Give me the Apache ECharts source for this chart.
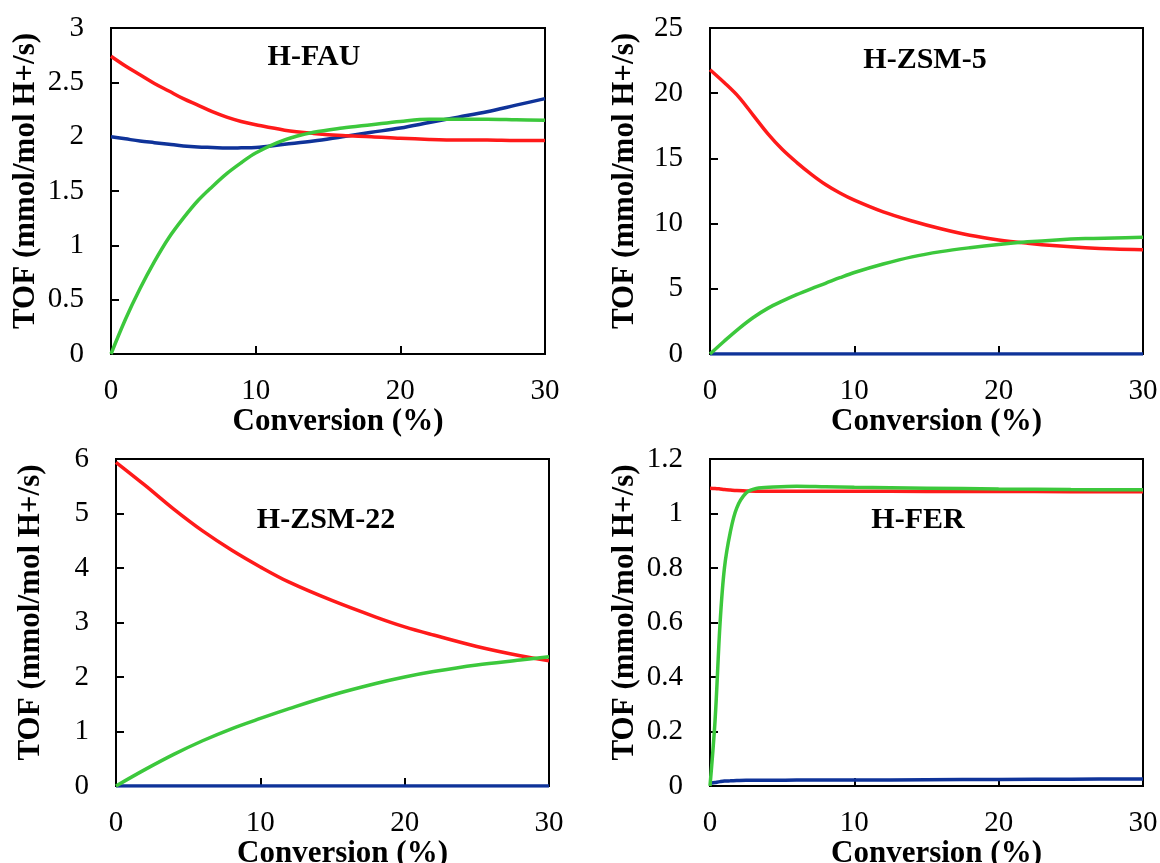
<!DOCTYPE html>
<html>
<head>
<meta charset="utf-8">
<script src="https://cdn.jsdelivr.net/npm/echarts@6/dist/echarts.min.js"></script>
<style>
html,body{margin:0;padding:0;background:#fff;}
#chart{width:1160px;height:863px;}
</style>
</head>
<body>
<div id="chart"></div>
<script>
// ---------- data ----------
const panelNames = ['H-FAU', 'H-ZSM-5', 'H-ZSM-22', 'H-FER'];
const yMax = [3, 25, 6, 1.2];
const yInterval = [0.5, 5, 1, 0.2];
const xTicks = [0, 10, 20, 30];

// H-FAU
const xFAU = [0,1,2,3,4,5,6,7,8,9,10,12,14,16,18,20,22,24,26,28,30];
const redFAU = [2.74,2.65,2.57,2.49,2.42,2.35,2.29,2.23,2.18,2.14,2.11,2.06,2.03,2.01,2.0,1.985,1.975,1.97,1.97,1.965,1.965];
const blueFAU = [2.0,1.98,1.96,1.945,1.93,1.915,1.905,1.9,1.895,1.897,1.9,1.93,1.96,2.0,2.04,2.08,2.13,2.18,2.23,2.29,2.35];
const greenFAU = [0,0.32,0.6,0.85,1.07,1.25,1.41,1.54,1.66,1.76,1.85,1.97,2.04,2.08,2.11,2.14,2.16,2.16,2.16,2.155,2.15];

// H-ZSM-5
const xZSM5 = [0,1,2,3,4,5,6,7,8,9,10,12,14,16,18,20,22,24,26,28,30];
const redZSM5 = [21.8,20.8,19.7,18.3,16.9,15.7,14.7,13.8,13.0,12.35,11.8,10.9,10.2,9.6,9.1,8.75,8.5,8.3,8.15,8.05,8.0];
const blueZSM5 = [0,0,0,0,0,0,0,0,0,0,0,0,0,0,0,0,0,0,0,0,0];
const greenZSM5 = [0,1.0,1.95,2.8,3.5,4.05,4.55,5.0,5.42,5.85,6.25,6.9,7.45,7.85,8.15,8.4,8.6,8.75,8.85,8.9,8.95];

// H-ZSM-22
const xZSM22 = [0,2,4,6,8,10,12,15,18,20,22,25,28,30];
const redZSM22 = [5.94,5.52,5.08,4.68,4.33,4.02,3.74,3.40,3.10,2.92,2.77,2.56,2.39,2.3];
const blueZSM22 = [0,0,0,0,0,0,0,0,0,0,0,0,0,0];
const greenZSM22 = [0,0.3,0.58,0.83,1.05,1.24,1.42,1.67,1.88,2.0,2.1,2.22,2.31,2.37];

// H-FER
const xFER = [0,0.35,0.7,1.0,1.4,1.85,2.5,3.2,4.4,6,8,10,15,20,25,30];
const redFER = [1.093,1.092,1.09,1.088,1.086,1.084,1.083,1.082,1.082,1.082,1.082,1.082,1.081,1.081,1.08,1.08];
const blueFER = [0.01,0.013,0.016,0.018,0.019,0.02,0.021,0.021,0.021,0.022,0.022,0.022,0.023,0.024,0.025,0.026];
const greenFER = [0,0.24,0.6,0.8,0.93,1.02,1.075,1.092,1.097,1.1,1.098,1.096,1.093,1.09,1.088,1.087];

// ---------- layout ----------
const panels = [
  {x: xFAU, red: redFAU, blue: blueFAU, green: greenFAU},
  {x: xZSM5, red: redZSM5, blue: blueZSM5, green: greenZSM5},
  {x: xZSM22, red: redZSM22, blue: blueZSM22, green: greenZSM22},
  {x: xFER, red: redFER, blue: blueFER, green: greenFER}
];
const grids = [
  {left: 111, top: 28, width: 434, height: 326},
  {left: 710, top: 28, width: 433, height: 326},
  {left: 116, top: 459, width: 433, height: 327},
  {left: 710, top: 459, width: 433, height: 327}
];
const xNameGap = [47, 47, 45, 45];
const titlePos = [[314, 57], [925, 60], [326, 520], [918, 520]];

const FONT = '"Liberation Serif", "Times New Roman", serif';
const RED = '#ff1a1a', BLUE = '#0f3399', GREEN = '#3cc83c';

function pairs(xs, ys) { return xs.map((v, i) => [v, ys[i]]); }

const option = {
  animation: false,
  backgroundColor: '#fff',
  grid: grids.map(g => Object.assign({show: true, borderColor: '#000', borderWidth: 2,
    backgroundColor: 'transparent', containLabel: false, outerBoundsMode: 'none'}, g)),
  xAxis: grids.map((g, i) => ({
    type: 'value', gridIndex: i, min: 0, max: 30, interval: 10,
    name: 'Conversion (%)', nameLocation: 'middle', nameGap: xNameGap[i],
    nameTextStyle: {fontFamily: FONT, fontWeight: 'bold', fontSize: 31, color: '#000', padding: [0, 0, 0, 20]},
    axisLine: {show: true, lineStyle: {color: '#000', width: 2}},
    axisTick: {show: true, inside: true, length: 8, lineStyle: {color: '#000', width: 2}},
    axisLabel: {fontFamily: FONT, fontSize: 29, color: '#000', margin: 23},
    splitLine: {show: false}
  })),
  yAxis: grids.map((g, i) => ({
    type: 'value', gridIndex: i, min: 0, max: yMax[i], interval: yInterval[i],
    name: 'TOF (mmol/mol H+/s)', nameLocation: 'middle', nameGap: 70, nameRotate: 90,
    nameTextStyle: {fontFamily: FONT, fontWeight: 'bold', fontSize: 31, color: '#000', padding: [0, 0, 0, 20]},
    axisLine: {show: true, lineStyle: {color: '#000', width: 2}},
    axisTick: {show: true, inside: true, length: 8, lineStyle: {color: '#000', width: 2}},
    axisLabel: {fontFamily: FONT, fontSize: 29, color: '#000', margin: 27},
    splitLine: {show: false}
  })),
  graphic: panelNames.map((n, i) => ({
    type: 'text', x: titlePos[i][0], y: titlePos[i][1], z: 10,
    style: {text: n, fontFamily: FONT, fontWeight: 'bold', fontSize: 30, fill: '#000',
            textAlign: 'center', textVerticalAlign: 'middle'}
  })),
  series: []
};

panels.forEach((p, i) => {
  [['blue', BLUE], ['red', RED], ['green', GREEN]].forEach(([k, c]) => {
    option.series.push({
      type: 'line', xAxisIndex: i, yAxisIndex: i,
      data: pairs(p.x, p[k]), smooth: 0.35, showSymbol: false, symbol: 'none',
      lineStyle: {color: c, width: 3.5}, clip: true
    });
  });
});

const chart = echarts.init(document.getElementById('chart'), null, {renderer: 'canvas'});
chart.setOption(option);
</script>
</body>
</html>
